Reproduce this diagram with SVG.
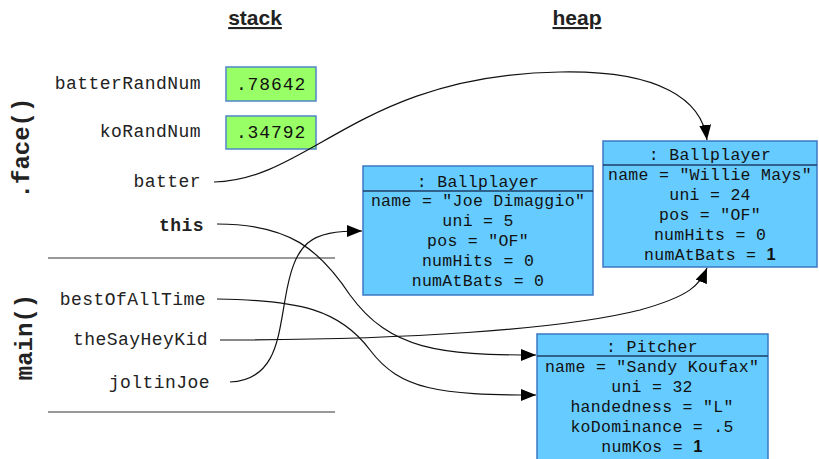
<svg xmlns="http://www.w3.org/2000/svg" width="819" height="459" viewBox="0 0 819 459">
<defs>
<style>
.lbl{font-family:"Liberation Mono","Courier New",monospace;font-size:18px;letter-spacing:0.45px;fill:#222;text-anchor:end}
.val{font-family:"Liberation Mono","Courier New",monospace;font-size:18px;letter-spacing:0.9px;fill:#111;text-anchor:middle}
.obj{font-family:"Liberation Mono","Courier New",monospace;font-size:16.5px;letter-spacing:0.3px;fill:#111;text-anchor:middle}
.frame{font-family:"Liberation Mono","Courier New",monospace;font-size:24px;font-weight:bold;fill:#222;text-anchor:middle}
.title{font-family:"Liberation Sans",Arial,sans-serif;font-size:21px;font-weight:bold;fill:#222;text-anchor:middle;text-decoration:underline}
.box{fill:#66ccff;stroke:#3b78c2;stroke-width:1.5}
.prim{fill:#99ff66;stroke:#4f86c6;stroke-width:1.5}
.hdr{stroke:#1d3f66;stroke-width:1.5}
.sep{stroke:#333;stroke-width:1.2}
.conn path{fill:none;stroke:#111;stroke-width:1.2;marker-end:url(#arr)}
.b1{font-family:"Liberation Sans",Arial,sans-serif;font-weight:bold}
</style>
<marker id="arr" markerUnits="userSpaceOnUse" markerWidth="16" markerHeight="13" refX="15" refY="6" orient="auto">
<path d="M0,0 L15,6 L0,12 z" fill="#000"/>
</marker>
</defs>
<rect width="819" height="459" fill="#fff"/>

<text class="title" x="255" y="25">stack</text>
<text class="title" x="577" y="25">heap</text>

<text class="frame" transform="translate(29,148) rotate(-90)">.face()</text>
<text class="frame" transform="translate(32,337) rotate(-90)">main()</text>

<line class="sep" x1="48" y1="258" x2="335" y2="258"/>
<line class="sep" x1="48" y1="412" x2="335" y2="412"/>

<g id="batterRandNum">
<text class="lbl" x="201" y="89">batterRandNum</text>
<rect class="prim" x="226" y="67" width="90" height="34"/>
<text class="val" x="271" y="90">.78642</text>
</g>
<g id="koRandNum">
<text class="lbl" x="201" y="137">koRandNum</text>
<rect class="prim" x="226" y="116" width="90" height="33"/>
<text class="val" x="271" y="138">.34792</text>
</g>
<g id="batter"><text class="lbl" x="201" y="187">batter</text></g>
<g id="this"><text class="lbl" x="204" y="231" font-weight="bold">this</text></g>
<g id="bestOfAllTime"><text class="lbl" x="206" y="305">bestOfAllTime</text></g>
<g id="theSayHeyKid"><text class="lbl" x="208" y="345">theSayHeyKid</text></g>
<g id="joltinJoe"><text class="lbl" x="210" y="388">joltinJoe</text></g>

<g id="joe">
<rect class="box" x="363" y="166" width="230" height="129"/>
<line class="hdr" x1="363" y1="191" x2="593" y2="191"/>
<text class="obj" x="478" y="187">: Ballplayer</text>
<text class="obj" x="478" y="206">name = "Joe Dimaggio"</text>
<text class="obj" x="478" y="226">uni = 5</text>
<text class="obj" x="478" y="246">pos = "OF"</text>
<text class="obj" x="478" y="266">numHits = 0</text>
<text class="obj" x="478" y="286">numAtBats = 0</text>
</g>

<g id="willie">
<rect class="box" x="603" y="141" width="214" height="126"/>
<line class="hdr" x1="603" y1="165" x2="817" y2="165"/>
<text class="obj" x="710" y="160">: Ballplayer</text>
<text class="obj" x="710" y="180">name = "Willie Mays"</text>
<text class="obj" x="710" y="200">uni = 24</text>
<text class="obj" x="710" y="220">pos = "OF"</text>
<text class="obj" x="710" y="240">numHits = 0</text>
<text class="obj" x="710" y="260">numAtBats = <tspan class="b1">1</tspan></text>
</g>

<g id="sandy">
<rect class="box" x="537" y="334" width="231" height="130"/>
<line class="hdr" x1="537" y1="356" x2="768" y2="356"/>
<text class="obj" x="652" y="352">: Pitcher</text>
<text class="obj" x="652" y="372">name = "Sandy Koufax"</text>
<text class="obj" x="652" y="392">uni = 32</text>
<text class="obj" x="652" y="412">handedness = "L"</text>
<text class="obj" x="652" y="432">koDominance = .5</text>
<text class="obj" x="652" y="452">numKos = <tspan class="b1">1</tspan></text>
</g>

<g id="connectors" class="conn">
<path d="M214,182 C310,180 360,75 560,72 C660,70 702,100 707,140"/>
<path d="M217,224 C290,224 320,250 350,295 C390,350 440,355 536,355"/>
<path d="M217,299 C300,300 340,310 370,350 C400,390 440,395 536,395"/>
<path d="M220,340 C400,340 560,330 640,310 C690,296 700,285 707,268"/>
<path d="M230,382 C275,380 278,340 285,300 C295,240 310,231 362,231"/>
</g>
</svg>
